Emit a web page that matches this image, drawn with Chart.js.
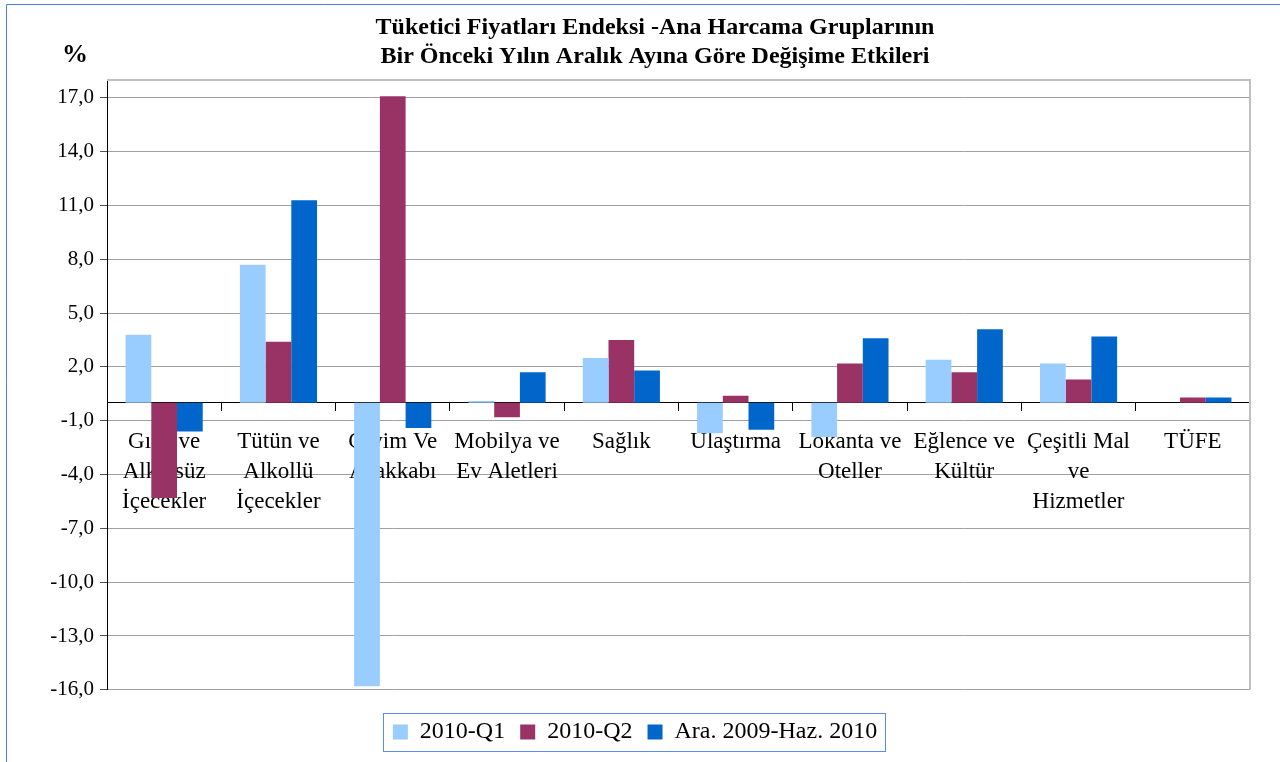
<!DOCTYPE html>
<html>
<head>
<meta charset="utf-8">
<script src="https://cdn.jsdelivr.net/npm/chart.js@4"></script>
<style>
  html, body { margin: 0; padding: 0; background: #fff; }
  #wrap { position: relative; width: 1280px; height: 762px; }
</style>
</head>
<body>
<div id="wrap"><canvas id="chart" width="1280" height="762"></canvas></div>
<script>
// Categories (multi-line labels like the original)
const categories = [
  ['Gıda ve', 'Alkolsüz', 'İçecekler'],
  ['Tütün ve', 'Alkollü', 'İçecekler'],
  ['Giyim Ve', 'Ayakkabı'],
  ['Mobilya ve', 'Ev Aletleri'],
  ['Sağlık'],
  ['Ulaştırma'],
  ['Lokanta ve', 'Oteller'],
  ['Eğlence ve', 'Kültür'],
  ['Çeşitli Mal', 've', 'Hizmetler'],
  ['TÜFE']
];

const seriesNames = ['2010-Q1', '2010-Q2', 'Ara. 2009-Haz. 2010'];

const q1Values = [3.8, 7.7, -15.8, 0.1, 2.5, -1.7, -1.9, 2.4, 2.2, 0];
const q2Values = [-5.3, 3.4, 17.1, -0.8, 3.5, 0.4, 2.2, 1.7, 1.3, 0.3];
const araValues = [-1.6, 11.3, -1.4, 1.7, 1.8, -1.5, 3.6, 4.1, 3.7, 0.3];

const yTicks = [-16, -13, -10, -7, -4, -1, 2, 5, 8, 11, 14, 17];

const titleLines = [
  'Tüketici Fiyatları Endeksi -Ana Harcama Gruplarının',
  'Bir Önceki Yılın Aralık Ayına Göre Değişime Etkileri'
];

const serif = "'Liberation Serif', 'Times New Roman', serif";

// Draws the page frame, title, "%" mark, plot border and legend box
const decorPlugin = {
  id: 'decor',
  afterDraw(chart) {
    const ctx = chart.ctx;
    const area = chart.chartArea;
    ctx.save();

    // blue outer frame
    ctx.strokeStyle = '#4a7df5';
    ctx.lineWidth = 1;
    ctx.beginPath();
    ctx.moveTo(6.5, 762);
    ctx.lineTo(6.5, 4.5);
    ctx.lineTo(1280, 4.5);
    ctx.stroke();

    // plot border top / right
    ctx.strokeStyle = '#c0c0c0';
    ctx.lineWidth = 2;
    ctx.beginPath();
    ctx.moveTo(area.left, area.top);
    ctx.lineTo(area.right, area.top);
    ctx.lineTo(area.right, area.bottom);
    ctx.stroke();

    // title
    ctx.fillStyle = '#000';
    ctx.font = 'bold 24px ' + serif;
    ctx.textAlign = 'center';
    ctx.textBaseline = 'middle';
    ctx.fillText(titleLines[0], 655, 28);
    ctx.fillText(titleLines[1], 655, 57);

    ctx.font = 'bold 26px ' + serif;
    ctx.fillText('%', 75, 55);

    // legend frame
    const boxes = chart.legend.legendHitBoxes;
    if (boxes && boxes.length) {
      let minX = Infinity, maxX = -Infinity, minY = Infinity, maxY = -Infinity;
      boxes.forEach(b => {
        minX = Math.min(minX, b.left);
        maxX = Math.max(maxX, b.left + b.width);
        minY = Math.min(minY, b.top);
        maxY = Math.max(maxY, b.top + b.height);
      });
      ctx.strokeStyle = '#5b8af7';
      ctx.lineWidth = 1;
      ctx.strokeRect(Math.round(minX - 10) + 0.5, Math.round(minY - 7) + 0.5,
        Math.round(maxX - minX + 18), Math.round(maxY - minY + 14));
    }
    ctx.restore();
  }
};

const ctx = document.getElementById('chart').getContext('2d');

new Chart(ctx, {
  type: 'bar',
  data: {
    labels: categories,
    datasets: [
      { label: seriesNames[0], data: q1Values, backgroundColor: '#99ccff' },
      { label: seriesNames[1], data: q2Values, backgroundColor: '#993366' },
      { label: seriesNames[2], data: araValues, backgroundColor: '#0066cc' }
    ]
  },
  options: {
    responsive: false,
    animation: false,
    datasets: {
      bar: { categoryPercentage: 0.675, barPercentage: 1.0 }
    },
    layout: {
      padding: { left: 20, right: 30, top: 80, bottom: 8 }
    },
    plugins: {
      title: { display: false },
      tooltip: { enabled: false },
      legend: {
        position: 'bottom',
        // empty title only used as a spacer between plot and legend
        title: { display: true, text: ' ', font: { size: 1 }, padding: { top: 14, bottom: 0 } },
        labels: {
          font: { family: serif, size: 24 },
          color: '#000',
          boxWidth: 15,
          boxHeight: 15,
          padding: 15
        }
      }
    },
    scales: {
      x: {
        position: { y: 0 },
        afterFit(scale) { scale.height = 0; },
        grid: {
          offset: true,
          drawOnChartArea: false,
          drawTicks: true,
          tickLength: 8,
          tickColor: '#000'
        },
        border: { color: '#000', width: 1 },
        ticks: {
          color: '#000',
          font: { family: serif, size: 23, lineHeight: 1.3 },
          maxRotation: 0,
          autoSkip: false,
          padding: 16
        }
      },
      y: {
        min: -16,
        max: 18,
        afterFit(scale) { scale.width = 87; },
        afterBuildTicks(scale) {
          scale.ticks = yTicks.map(v => ({ value: v }));
        },
        grid: {
          color: '#a0a0a0',
          tickColor: '#555',
          tickLength: 7
        },
        border: { color: '#000', width: 1 },
        ticks: {
          color: '#000',
          font: { family: serif, size: 21 },
          padding: 6,
          callback: v => v.toFixed(1).replace('.', ',')
        }
      }
    }
  },
  plugins: [decorPlugin]
});
</script>
</body>
</html>
